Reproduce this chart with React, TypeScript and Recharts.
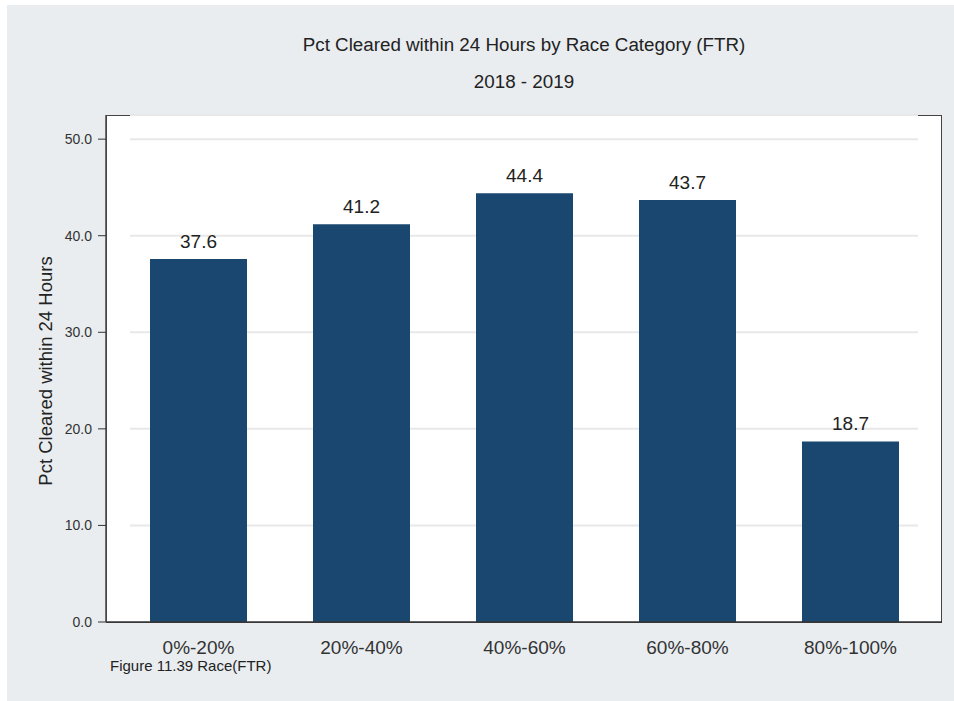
import React from 'react';
import { BarChart, Bar, XAxis, YAxis, CartesianGrid, LabelList } from 'recharts';

const categories = ['0%-20%', '20%-40%', '40%-60%', '60%-80%', '80%-100%'];
const pctCleared = [37.6, 41.2, 44.4, 43.7, 18.7];
const yTicks = [0, 10, 20, 30, 40, 50];

const data = categories.map((c, i) => ({ cat: c, value: pctCleared[i] }));

const FONT = '"Liberation Sans", Arial, Helvetica, sans-serif';
const TXT = '#333333';

const gridLine = (props: any) => {
  const { x1, x2, y1, y2, index } = props;
  if (Math.abs(y1 - 622) < 2) return <g key={`g-${index}`} />;
  return (
    <line key={`g-${index}`} x1={x1 + 24} x2={x2 - 24} y1={y1} y2={y2} stroke="#e8e8e8" strokeWidth={2} />
  );
};

export default function App() {
  return (
    <div style={{ position: 'absolute', left: 0, top: 0, width: 954, height: 701, background: '#ffffff', fontFamily: FONT }}>
      <div style={{ position: 'absolute', left: 7, top: 5, width: 947, height: 696, background: '#e9edf0' }} />
      <div style={{ position: 'absolute', left: 106, top: 115, width: 836, height: 508, background: '#ffffff', border: '1.5px solid #444', boxSizing: 'border-box' }} />
      <div style={{ position: 'absolute', left: 124, width: 800, top: 34, textAlign: 'center', fontSize: 18.8, color: '#222' }}>
        Pct Cleared within 24 Hours by Race Category (FTR)
      </div>
      <div style={{ position: 'absolute', left: 124, width: 800, top: 71, textAlign: 'center', fontSize: 18.8, color: '#222' }}>
        2018 - 2019
      </div>
      <div style={{ position: 'absolute', left: 46 - 150, top: 371 - 11, width: 300, height: 22, textAlign: 'center', fontSize: 18.5, color: '#222', transform: 'rotate(-90deg)', lineHeight: '22px' }}>
        Pct Cleared within 24 Hours
      </div>
      <div style={{ position: 'absolute', left: 110, top: 657, fontSize: 15, color: '#222' }}>
        Figure 11.39 Race(FTR)
      </div>
      <div style={{ position: 'absolute', left: 0, top: 0 }}>
        <BarChart width={954} height={701} data={data} margin={{ top: 115, right: 12, left: 46, bottom: 49 }} barCategoryGap={0}>
          <CartesianGrid vertical={false} horizontal={gridLine} />
          <XAxis
            dataKey="cat"
            tickLine={false}
            axisLine={{ stroke: '#333', strokeWidth: 1.5 }}
            tick={{ fontSize: 19, fill: TXT, fontFamily: FONT }}
            tickMargin={13}
            height={30}
            padding={{ left: 11, right: 10 }}
          />
          <YAxis
            domain={[0, 52.5]}
            ticks={yTicks}
            tickFormatter={(v: number) => v.toFixed(1)}
            width={60}
            tickSize={8}
            tickMargin={6}
            tickLine={{ stroke: '#333' }}
            axisLine={{ stroke: '#444', strokeWidth: 1.5 }}
            tick={{ fontSize: 14, fill: TXT, fontFamily: FONT }}
            interval={0}
          />
          <Bar dataKey="value" fill="#1a476f" barSize={97} isAnimationActive={false}>
            <LabelList dataKey="value" position="top" offset={11} formatter={(v: any) => Number(v).toFixed(1)} style={{ fontSize: 19, fill: '#222', fontFamily: FONT }} />
          </Bar>
        </BarChart>
      </div>
    </div>
  );
}
